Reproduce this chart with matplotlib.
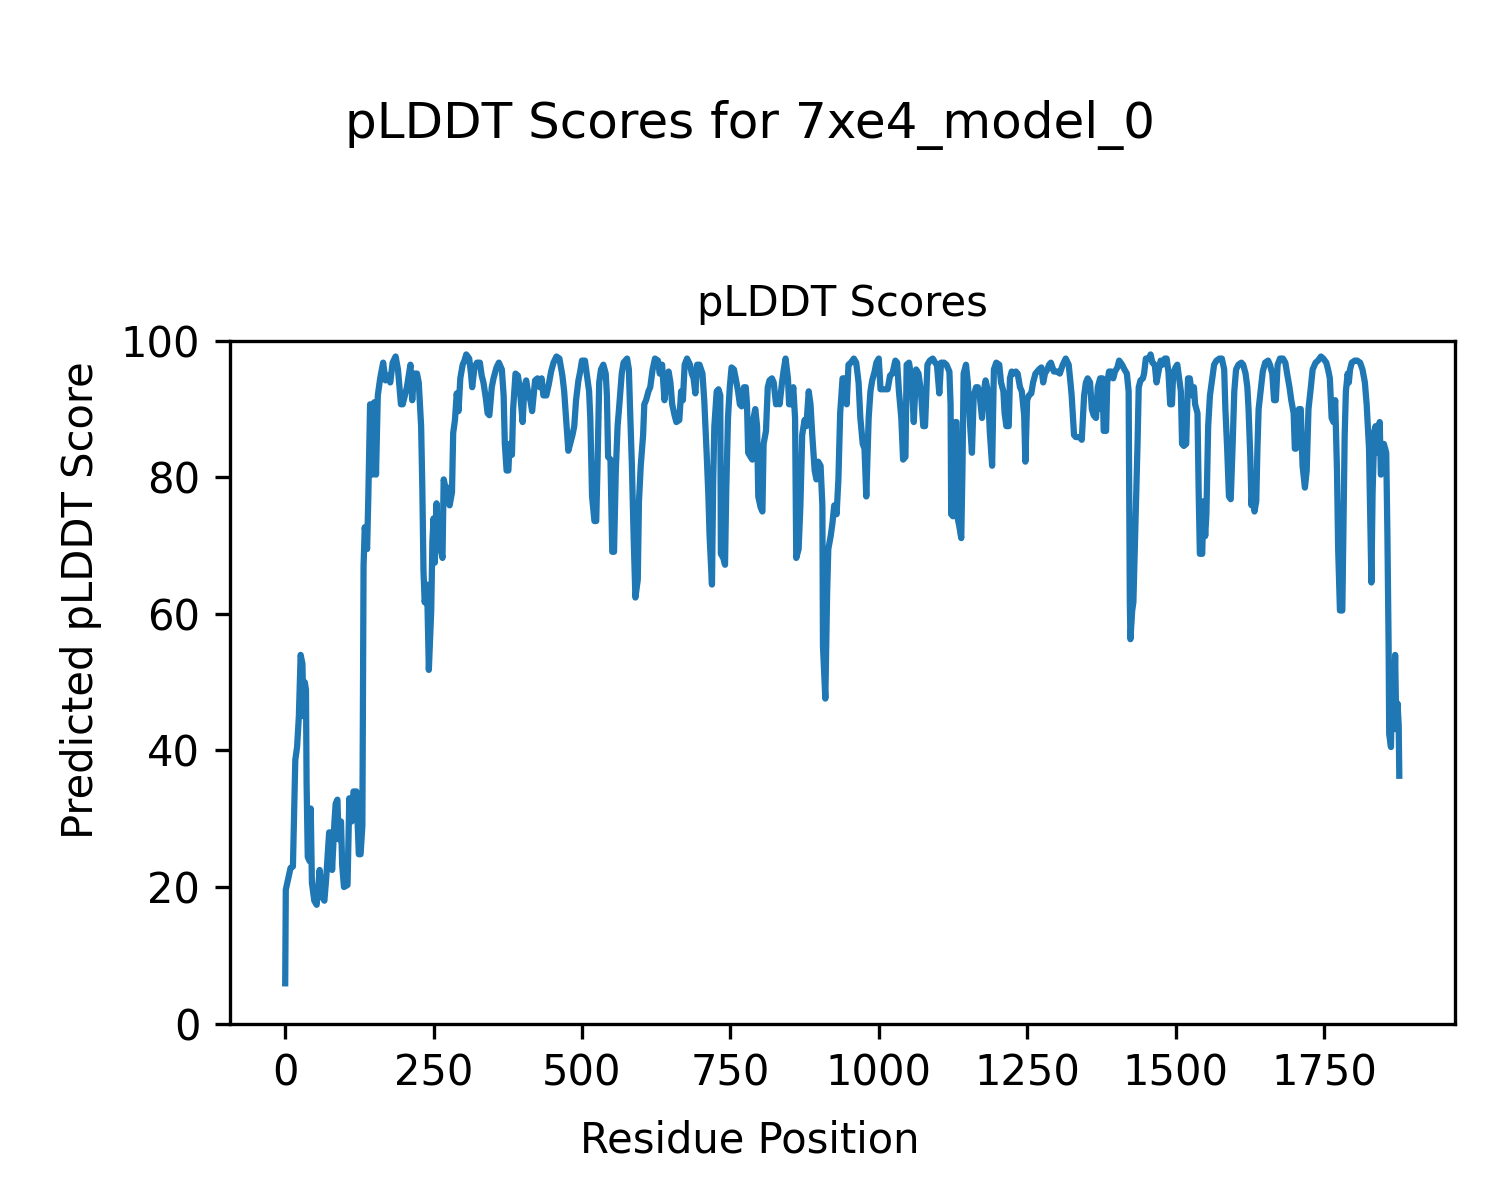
import matplotlib
matplotlib.use('Agg')
from matplotlib import pyplot as plt

model_name = '7xe4_model_0'

# residue index and pLDDT value (peaks and dips)
residue = [
    0, 1, 5, 9, 13, 15, 17, 20, 23, 26, 29, 31, 33, 35, 36, 38, 41, 43, 45, 49,
    53, 58, 62, 66, 69, 74, 77, 79, 83, 85, 88, 90, 94, 96, 99, 105, 108, 112, 115, 120,
    122, 124, 127, 130, 132, 134, 138, 140, 143, 147, 150, 153, 156, 160, 165, 169, 174, 177, 181, 186,
    190, 195, 198,
    205, 211, 214, 217, 222, 225, 229, 231, 233, 235, 239, 242, 246, 248, 250, 252, 255, 258, 261, 265,
    267, 270, 274, 277, 281, 283, 286, 289, 292, 295, 299, 302, 305, 310, 313, 315, 319, 323, 328, 331,
    334, 338, 341, 344, 348, 351, 356, 360, 365, 368, 370, 373, 376, 378, 382, 384, 388, 392, 395, 400,
    403, 406, 410, 413,
    416, 421, 425, 429, 432, 435, 440, 444, 448, 452, 457, 462, 467, 470, 474, 477, 480, 484, 487, 490,
    494, 497, 500, 505, 508, 512, 514, 517, 521, 524, 526, 529, 532, 536, 540, 542, 544, 548, 551, 554,
    557, 560, 563, 567, 570, 576, 579, 581, 584, 587, 590, 594, 596, 599, 603, 605, 608, 612, 615, 619,
    623, 628, 631,
    635, 639, 642, 646, 649, 652, 656, 659, 664, 667, 670, 673, 677, 682, 685, 688, 691, 694, 698, 703,
    706, 710, 713, 715, 719, 721, 723, 727, 730, 733, 734, 738, 741, 743, 746, 749, 752, 756, 759, 763,
    766, 769, 773, 776, 778, 780, 784, 787, 789, 792, 795, 797, 801, 804, 806, 810, 813, 816, 820, 823,
    827, 830, 833, 837, 840, 843, 847, 849, 852, 856, 859, 861, 865,
    868, 871, 875, 878, 882, 885, 888, 892, 895, 898, 902, 905, 906, 910, 913, 915, 919, 922, 925, 929,
    932, 935, 939, 942, 946, 949, 953, 958, 962, 966, 969, 973, 976, 979, 983, 986, 989, 993, 996, 1000,
    1003, 1007, 1012, 1015, 1019, 1023, 1028, 1031, 1034, 1038, 1041, 1045, 1047, 1051, 1055, 1059, 1063, 1067,
    1071, 1075, 1078, 1082, 1086, 1091, 1095, 1098, 1102, 1105, 1110, 1114, 1119, 1121, 1122, 1125, 1129, 1131, 1133, 1136,
    1139, 1141, 1143, 1147, 1150, 1154, 1157, 1160, 1164, 1167, 1170, 1174, 1177, 1180, 1184, 1187, 1191, 1194, 1198, 1203,
    1206, 1210, 1212, 1215, 1219, 1221, 1224, 1228, 1231, 1234, 1238, 1241, 1245, 1247, 1250, 1253, 1257, 1260, 1264, 1267,
    1270, 1274, 1277, 1280, 1284, 1287,
    1290, 1295, 1301, 1305, 1310, 1315, 1320, 1323, 1325, 1329, 1332, 1336, 1339, 1342, 1346, 1349, 1352, 1356, 1359, 1362,
    1366, 1369, 1373, 1375, 1377, 1379, 1383, 1385, 1388, 1392, 1395, 1398, 1402, 1405, 1410, 1414, 1418, 1421, 1422, 1423,
    1424, 1427, 1429, 1431, 1433, 1436, 1438, 1441, 1445, 1447, 1450, 1455, 1458, 1461, 1465, 1468, 1472, 1475, 1478, 1482,
    1485, 1488, 1491, 1494, 1496, 1500, 1503, 1506, 1509, 1511, 1514, 1518, 1521,
    1524, 1528, 1531, 1533, 1537, 1539, 1541, 1545, 1547, 1550, 1552, 1555, 1558, 1561, 1565, 1569, 1574, 1578, 1582, 1584,
    1587, 1590, 1593, 1596, 1599, 1602, 1606, 1611, 1614, 1618, 1621, 1623, 1626, 1628, 1630, 1633, 1636, 1638, 1640, 1644,
    1647, 1651, 1656, 1659, 1663, 1666, 1669, 1672, 1676, 1681, 1685, 1688, 1692, 1695, 1699, 1701, 1703, 1705, 1708,
    1711, 1714, 1718, 1721, 1724, 1728, 1731, 1736, 1740, 1745, 1749, 1754, 1757, 1760, 1763, 1766, 1769, 1772, 1774, 1777,
    1781, 1783, 1785, 1787, 1790, 1792, 1794, 1797, 1802, 1806, 1811, 1815, 1819, 1822, 1826, 1828, 1830, 1832, 1835, 1837,
    1840, 1844, 1846, 1849, 1851, 1855, 1857, 1859, 1860, 1863, 1865, 1867, 1870, 1872, 1874, 1876, 1877,
]

plddt = [
    5.9, 19.6, 21.2, 22.8, 23, 31, 38.6, 40.5, 45, 54, 52.7, 45, 50, 48.9, 35.4, 24.4, 23.8, 31.5, 20.6, 18,
    17.4, 22.5, 18.6, 18, 21.2, 28, 28, 22.5, 29.6, 32.2, 32.8, 27, 29.6, 23.2, 20, 20.3, 33, 29.6, 34, 34,
    29.6, 24.8, 24.8, 29, 67, 72.7, 69.5, 77, 90.7, 80.4, 91, 80.4, 92, 94.5, 96.8, 94.2, 94.9, 93.9, 96.8, 97.7,
    95.8, 90.7, 90.7,
    93.2, 96.5, 91.3, 95.2, 95.2, 93.9, 87.5, 78.5, 66.2, 61.7, 64.3, 51.8, 60.5, 70.7, 74, 67.5, 76.2, 69.5, 70, 68.2,
    79.7, 78.5, 78.5, 75.9, 77.8, 86.5, 88.4, 92.3, 89.7, 94.5, 96.5, 97.1, 98, 97.4, 95.2, 93.2, 96.1, 96.8, 96.8, 94.9,
    93.9, 91.6, 89.4, 89.1, 93.2, 94.5, 96.1, 96.8, 95.8, 92, 84.9, 81, 81, 84.9, 83.3, 90, 95.2, 94.9, 93.2, 88.1,
    93.2, 94.2, 92, 91.3,
    89.7, 94.2, 94.5, 93.2, 94.5, 92, 92, 93.6, 95.5, 96.8, 97.7, 97.4, 94.9, 92.6, 87.5, 83.9, 84.9, 86.2, 87.5, 91.3,
    94.2, 95.5, 97.1, 97.1, 95.2, 92.6, 88.7, 77.2, 73.6, 73.6, 81, 93.9, 95.8, 96.5, 95.2, 92, 83, 82.6, 69.1, 69.1,
    81, 87.5, 90.7, 95.2, 96.8, 97.4, 95.8, 90, 82, 71.4, 62.4, 65, 76.5, 81.7, 86.2, 90.7, 91.3, 92.6, 93.2, 95.8,
    97.4, 97.1, 95.2,
    96.5, 91.3, 93.9, 95.5, 93.9, 90.7, 89.1, 88.1, 88.4, 92.6, 91.3, 96.5, 97.4, 96.5, 95.2, 94.5, 92.3, 96.5, 96.5, 95.2,
    91.3, 83.6, 77.2, 71.4, 64.3, 79.1, 87.5, 92.6, 92.9, 92, 68.8, 68.2, 67.2, 77.8, 88.7, 93.2, 96.1, 95.8, 94.5, 92.6,
    90.7, 90.4, 93.2, 93.2, 90.7, 83.6, 83, 82.6, 88.7, 90, 87.5, 77.2, 75.6, 75, 84.9, 86.8, 93.2, 94.2, 94.5, 93.9,
    90.7, 92, 90.7, 93.9, 95.8, 97.4, 94.5, 90.7, 90.7, 93.2, 88.7, 68.2, 69.5,
    75.9, 86.2, 88.4, 87.5, 92.6, 90.7, 86.2, 81, 79.7, 82.3, 81.7, 75.9, 55.3, 47.6, 63, 69.5, 71.4, 73.3, 75.9, 74.6,
    79.7, 89.4, 94.5, 94.5, 90.7, 96.5, 96.8, 97.4, 96.8, 93.9, 88.7, 84.9, 84.2, 77.2, 88.7, 92.6, 94.2, 95.5, 96.8, 97.4,
    92.9, 92.9, 92.9, 92.9, 94.9, 95.2, 97.1, 96.8, 92.6, 88.7, 82.6, 83, 96.5, 96.8, 94.5, 88.1, 95.8, 95.2,
    92.6, 87.5, 87.5, 96.5, 97.1, 97.4, 96.8, 96.5, 92.3, 96.8, 96.8, 96.5, 95.5, 90.7, 74.6, 74.3, 88.1, 88.1, 74, 72.7,
    71.1, 81, 95.2, 96.5, 93.9, 87.5, 83.6, 92, 93.2, 93.2, 92, 88.7, 92.6, 94.2, 92.6, 86.8, 81.7, 95.8, 96.8, 96.5,
    93.9, 92.6, 89.4, 87.5, 87.5, 94.5, 95.5, 95.2, 95.5, 95.2, 93.2, 92.6, 89.1, 82.3, 91.3, 92, 92.3, 93.9, 95.2, 95.5,
    95.8, 96.1, 93.9, 95.2, 95.8, 96.5,
    96.8, 95.5, 95.5, 95.2, 96.5, 97.4, 96.5, 93.9, 92, 86.2, 85.9, 85.9, 85.9, 85.5, 92, 93.9, 94.5, 93.9, 90, 89.1,
    88.7, 93.2, 94.5, 90, 94.5, 86.8, 86.8, 93.9, 95.5, 95.5, 94.5, 95.5, 96.1, 97.1, 96.5, 95.8, 95.2, 92.6, 77.8, 61.7,
    56.3, 60.5, 61.7, 68.2, 74.6, 84.9, 93.2, 94.2, 94.5, 95.2, 97.4, 97.4, 98, 96.8, 96.5, 93.9, 95.8, 97.1, 96.5, 97.4,
    97.4, 95.5, 90.7, 90.7, 95.2, 96.1, 96.5, 94.5, 92.6, 84.9, 84.6, 84.9, 94.5,
    94.5, 92, 93.2, 90.7, 89.4, 77.8, 68.8, 68.8, 76.5, 71.4, 74.6, 87.5, 92, 93.9, 96.5, 97.1, 97.4, 97.4, 95.8, 90,
    84.2, 77.2, 76.8, 84.2, 92.6, 95.8, 96.5, 96.8, 96.5, 95.2, 93.2, 90, 83, 75.9, 78.5, 75, 76.5, 84.2, 90, 93.2,
    95.5, 96.8, 97.1, 96.5, 95.2, 91.3, 91.3, 96.5, 97.4, 97.4, 96.8, 95.2, 93.2, 91.3, 89.4, 84.2, 84.2, 87.5, 90,
    90, 81.7, 78.5, 81, 90, 93.2, 95.8, 96.8, 97.1, 97.7, 97.4, 96.8, 95.8, 94.5, 88.7, 88.1, 91.3, 81, 69.5, 60.5,
    60.5, 73.3, 86.2, 92.6, 95.2, 93.9, 95.8, 96.8, 97.1, 97.1, 96.8, 95.8, 93.9, 90.7, 84.2, 74.6, 64.6, 77.8, 86.8, 87.5,
    83.6, 88.1, 80.4, 81, 84.9, 83.6, 71.4, 55.3, 42.4, 40.5, 51.4, 43.7, 54, 43.1, 46.9, 43.7, 36.3,
]

fig = plt.figure(figsize=(5, 4), dpi=300)
ax = fig.add_axes([0.153, 0.147, 0.817, 0.569])
ax.plot(residue, plddt)
ax.set_ylim(0, 100)
ax.set_title('pLDDT Scores', fontsize=10)
fig.supxlabel('Residue Position', fontsize=10, y=0.032)
fig.supylabel('Predicted pLDDT Score', fontsize=10, x=0.04)
fig.suptitle('pLDDT Scores for ' + model_name, fontsize=12, y=0.917)

fig.savefig('out.png', dpi=300)
